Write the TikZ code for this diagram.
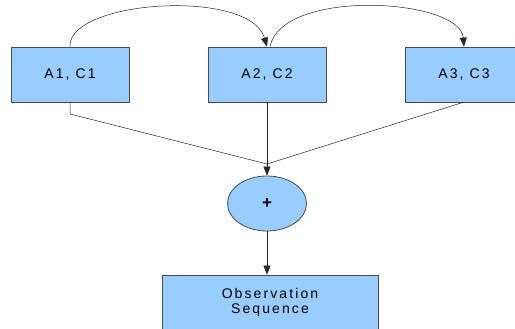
\documentclass[tikz,border=0pt]{standalone}
\usepackage{fontspec}
\setmainfont{Liberation Sans}[LetterSpace=15]
\usetikzlibrary{arrows.meta,shapes.geometric}
\definecolor{boxblue}{HTML}{99CCFF}
\definecolor{edgegray}{HTML}{4A4A4A}
\begin{document}
\begin{tikzpicture}[x=1pt,y=-1pt,
  statebox/.style={draw=edgegray,line width=0.8pt,fill=boxblue,minimum width=118pt,minimum height=55pt,inner sep=0pt,font=\fontsize{14}{15.5}\selectfont,align=center},
  sumnode/.style={ellipse,draw=edgegray,line width=0.8pt,fill=boxblue,minimum width=79pt,minimum height=55pt,inner sep=0pt,font=\fontsize{17}{17}\selectfont\bfseries},
  conn/.style={draw=black!85,line width=0.5pt},
  arr/.style={conn,-{Triangle[width=7pt,length=9pt]}}]
\useasboundingbox (0,0) rectangle (515,329);
\fill[white] (0,0) rectangle (515,329);
\node[statebox] (a1) at (70,74.5) {A1, C1};
\node[statebox] (a2) at (267,74.5) {A2, C2};
\node[statebox] (a3) at (464,74.5) {A3, C3};
\node[sumnode] (sum) at (267,203.5) {+};
\node[statebox,minimum width=216pt] (obs) at (270,302.5) {Observation\\Sequence};
\coordinate (merge) at (267,164);
\coordinate (bend1) at (70,114);
\draw[arr] (a1.north) .. controls (68,0) and (250,-12) .. (a2.north);
\draw[arr] ([xshift=3pt]a2.north) .. controls (282,-12) and (460,-2) .. (a3.north);
\draw[conn] (a1.south) -- (bend1) -- (merge);
\draw[conn] ([xshift=-1pt]a3.south) -- (merge);
\draw[arr] (a2.south) -- (sum.north);
\draw[arr] (sum.south) -- (sum.south |- obs.north);
\end{tikzpicture}
\end{document}
